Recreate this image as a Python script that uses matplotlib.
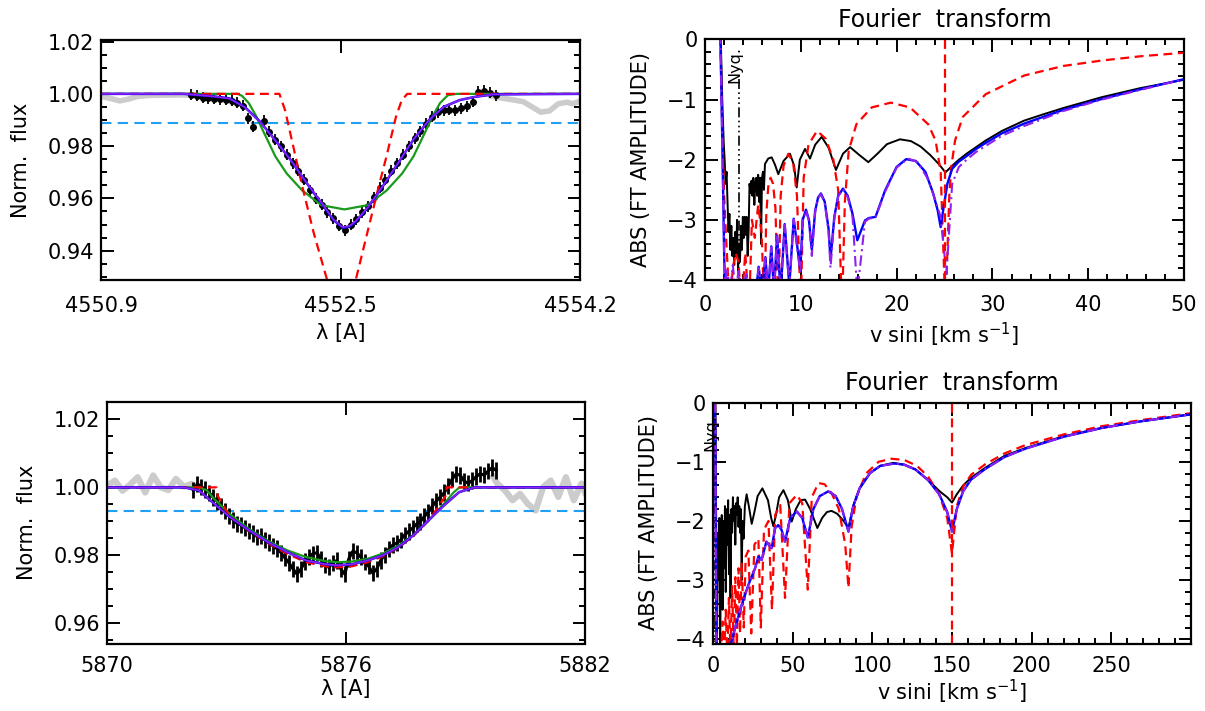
import numpy as np
import matplotlib
matplotlib.use('Agg')
import matplotlib.pyplot as plt
from matplotlib.ticker import MultipleLocator, FixedLocator, NullLocator

plt.rcParams['font.family'] = ['DejaVu Sans']
plt.rcParams['mathtext.fontset'] = 'dejavusans'

# ---------------- colours ----------------
C_RED = '#ff0000'
C_BLUE = '#0000ff'
C_PURPLE = '#9020f0'
C_GREEN = '#1a9a1a'
C_CYAN = '#1fa0f5'
C_GRAY = '#cccccc'

# ================= Panel 1 : Si III 4552 line =================
p1_xticks = [4550.85, 4552.5, 4554.15]
p1_xticklabels = ['4550.9', '4552.5', '4554.2']
p1_yticks = [0.94, 0.96, 0.98, 1.00, 1.02]
p1_yticklabels = ['0.94', '0.96', '0.98', '1.00', '1.02']

p1_gray_l_lam = [4550.85, 4550.92, 4550.98, 4551.04, 4551.10, 4551.18, 4551.28, 4551.38, 4551.48, 4551.55]
p1_gray_l_flux = [0.9990, 0.9982, 0.9973, 0.9980, 0.9990, 0.9994, 0.9995, 0.9996, 0.9995, 0.9990]
p1_gray_r_lam = [4553.52, 4553.60, 4553.68, 4553.76, 4553.82, 4553.88, 4553.94, 4554.00, 4554.06, 4554.10, 4554.15]
p1_gray_r_flux = [0.9992, 0.9985, 0.9978, 0.9970, 0.9950, 0.9930, 0.9935, 0.9962, 0.9968, 0.9962, 0.9972]

p1_data_lam = [4551.47, 4551.51, 4551.55, 4551.59, 4551.63, 4551.67, 4551.71, 4551.75, 4551.79, 4551.83,
               4551.86, 4551.894, 4551.973, 4552.01, 4552.05, 4552.09, 4552.13, 4552.17, 4552.21, 4552.25,
               4552.29, 4552.33, 4552.37, 4552.41, 4552.45, 4552.49, 4552.53, 4552.57, 4552.61, 4552.65,
               4552.69, 4552.73, 4552.77, 4552.81, 4552.85, 4552.89, 4552.93, 4552.97, 4553.01, 4553.05,
               4553.09, 4553.13, 4553.17, 4553.21, 4553.25, 4553.29, 4553.33, 4553.37, 4553.41, 4553.45,
               4553.49, 4553.53, 4553.57]
p1_data_flux = [0.9997, 0.9992, 0.9986, 0.9984, 0.9982, 0.9980, 0.9978, 0.9974, 0.9966, 0.9955,
                0.9906, 0.9874, 0.9898, 0.9855, 0.9825, 0.9800, 0.9768, 0.9735, 0.9705, 0.9672,
                0.9632, 0.9598, 0.9575, 0.9548, 0.9525, 0.9495, 0.9478, 0.9500, 0.9520, 0.9548,
                0.9570, 0.9605, 0.9640, 0.9672, 0.9705, 0.9735, 0.9768, 0.9800, 0.9830, 0.9857,
                0.9885, 0.9912, 0.9930, 0.9938, 0.9940, 0.9937, 0.9945, 0.9952, 0.9970, 1.0008,
                1.0012, 1.0005, 0.9995]
p1_data_err = 0.0021

p1_blue_lam = [4550.85, 4551.42, 4551.525, 4551.63, 4551.735, 4551.84, 4551.947, 4552.05, 4552.157, 4552.26,
               4552.37, 4552.45, 4552.515, 4552.56, 4552.605, 4552.684, 4552.79, 4552.896, 4553.0, 4553.11,
               4553.21, 4553.32, 4553.42, 4553.555, 4554.15]
p1_blue_flux = [1.0, 1.0, 0.9995, 0.9990, 0.9983, 0.9950, 0.9893, 0.9823, 0.9747, 0.9664,
                0.9581, 0.9518, 0.9488, 0.9492, 0.9511, 0.9562, 0.9645, 0.9734, 0.9823, 0.9900,
                0.9950, 0.9976, 0.9988, 0.9998, 1.0]
p1_purple_flux = [1.0, 1.0, 0.9995, 0.9990, 0.9982, 0.9949, 0.9892, 0.9822, 0.9747, 0.9665,
                  0.9583, 0.9520, 0.9490, 0.9494, 0.9513, 0.9563, 0.9646, 0.9735, 0.9824, 0.9900,
                  0.9950, 0.9976, 0.9988, 0.9998, 1.0]

p1_green_lam = [4550.85, 4551.79, 4551.82, 4551.868, 4551.92, 4551.974, 4552.052, 4552.13, 4552.237, 4552.369,
                4552.527, 4552.685, 4552.817, 4552.924, 4553.002, 4553.08, 4553.134, 4553.186, 4553.24, 4553.30, 4554.15]
p1_green_flux = [1.0, 1.0, 0.9993, 0.9965, 0.9914, 0.9850, 0.9760, 0.9695, 0.9630, 0.9574,
                 0.9558, 0.9574, 0.9630, 0.9695, 0.9760, 0.9850, 0.9914, 0.9965, 0.9995, 1.0, 1.0]

p1_red_lam = [4550.85, 4552.079, 4552.118, 4552.17, 4552.237, 4552.316, 4552.408, 4552.46, 4552.51, 4552.56,
              4552.605, 4552.684, 4552.763, 4552.816, 4552.882, 4552.922, 4552.96, 4554.15]
p1_red_flux = [1.0, 1.0, 0.9938, 0.9810, 0.9645, 0.9467, 0.9288, 0.9210, 0.9190, 0.9210,
               0.9288, 0.9467, 0.9645, 0.9759, 0.9912, 0.9976, 1.0, 1.0]
p1_cyan_level = 0.9889

# ================= Panel 3 : He I 5876 line =================
p3_xticks = [5870, 5876, 5882]
p3_xticklabels = ['5870', '5876', '5882']
p3_yticks = [0.96, 0.98, 1.00, 1.02]
p3_yticklabels = ['0.96', '0.98', '1.00', '1.02']

p3_gray_l_lam = [5870.0, 5870.2, 5870.39, 5870.58, 5870.77, 5870.96, 5871.16, 5871.35, 5871.54, 5871.73, 5871.93, 5872.12, 5872.3]
p3_gray_l_flux = [1.0005, 1.0020, 0.9990, 1.0008, 1.0030, 0.9985, 1.0035, 1.0000, 0.9992, 1.0025, 1.0002, 1.0010, 1.0000]
p3_gray_r_lam = [5879.7, 5879.8, 5879.99, 5880.18, 5880.37, 5880.56, 5880.76, 5880.95, 5881.14, 5881.33, 5881.52, 5881.72, 5881.91, 5882.0]
p3_gray_r_flux = [1.0030, 1.0011, 0.9991, 0.9962, 0.9981, 0.9952, 0.9932, 1.0001, 1.0020, 0.9972, 1.0030, 0.9962, 1.0011, 0.9985]

p3_data_lam_start, p3_data_lam_end = 5872.17, 5879.77
p3_data_flux = [0.9992, 1.0010, 1.0002, 0.9994, 0.9984, 0.9970, 0.9958, 0.9945, 0.9930, 0.9915,
                0.9905, 0.9893, 0.9890, 0.9880, 0.9872, 0.9864, 0.9855, 0.9858, 0.9846, 0.9838,
                0.9828, 0.9820, 0.9808, 0.9792, 0.9778, 0.9760, 0.9745, 0.9760, 0.9782, 0.9795,
                0.9805, 0.9808, 0.9790, 0.9772, 0.9765, 0.9778, 0.9785, 0.9760, 0.9745, 0.9790,
                0.9812, 0.9808, 0.9795, 0.9780, 0.9768, 0.9748, 0.9760, 0.9785, 0.9802, 0.9818,
                0.9830, 0.9836, 0.9845, 0.9860, 0.9870, 0.9880, 0.9892, 0.9900, 0.9915, 0.9928,
                0.9945, 0.9960, 0.9972, 0.9985, 1.0005, 1.0025, 1.0040, 1.0035, 1.0018, 1.0012,
                1.0020, 1.0032, 1.0040, 1.0036, 1.0048, 1.0058, 1.0050]
p3_data_err = 0.0024

p3_blue_lam = [5870.0, 5871.93, 5872.31, 5872.69, 5873.08, 5873.56, 5874.04, 5874.52, 5875.0, 5875.48,
               5875.77, 5876.15, 5876.54, 5876.92, 5877.31, 5877.69, 5878.07, 5878.46, 5878.84, 5879.23, 5882.0]
p3_blue_flux = [1.0, 1.0, 0.9991, 0.9952, 0.9913, 0.9874, 0.9839, 0.9810, 0.9785, 0.9774,
                0.9771, 0.9774, 0.9785, 0.9800, 0.9824, 0.9859, 0.9903, 0.9947, 0.9986, 1.0, 1.0]
p3_green_lam = [5870.0, 5872.3, 5872.5, 5872.7, 5873.08, 5873.56, 5874.04, 5874.52, 5875.0, 5875.48,
                5875.8, 5876.15, 5876.54, 5876.92, 5877.31, 5877.69, 5878.07, 5878.46, 5878.7, 5878.85, 5882.0]
p3_green_flux = [1.0, 1.0, 0.9992, 0.9965, 0.9922, 0.9878, 0.9843, 0.9815, 0.9795, 0.9783,
                 0.9780, 0.9782, 0.9790, 0.9805, 0.9828, 0.9860, 0.9902, 0.9952, 0.9985, 1.0, 1.0]
p3_red_lam = [5870.0, 5872.75, 5872.78, 5873.08, 5873.56, 5874.04, 5874.52, 5875.0, 5875.48, 5875.77,
              5876.15, 5876.54, 5876.92, 5877.31, 5877.69, 5878.07, 5878.3, 5878.5, 5878.53, 5882.0]
p3_red_flux = [1.0, 1.0, 0.9975, 0.9915, 0.9872, 0.9836, 0.9805, 0.9780, 0.9768, 0.9765,
               0.9768, 0.9780, 0.9797, 0.9822, 0.9857, 0.9902, 0.9940, 0.9975, 1.0, 1.0]
p3_cyan_level = 0.9932

# ================= Panel 2 : FT of 4552 line =================
ft1_black_v = [1.65, 1.8, 1.95, 2.05, 2.15, 2.25, 2.35, 2.45, 2.55, 2.65,
               2.75, 2.85, 2.95, 3.05, 3.15, 3.25, 3.35, 3.45, 3.55, 3.65,
               3.75, 3.85, 3.95, 4.05, 4.15, 4.25, 4.35, 4.45, 4.55, 4.65,
               4.75, 4.85, 4.95, 5.05, 5.15, 5.25, 5.35, 5.45, 5.55, 5.65,
               5.75, 5.85, 5.95, 6.05, 6.15, 6.26, 6.6, 6.96, 7.3, 7.65,
               8.2, 8.87, 9.3, 9.57, 9.9, 10.44, 10.96, 11.5, 12.18, 12.9,
               13.67, 14.4, 15.14, 16.1, 17.05, 18.0, 19.0, 20.35, 21.5, 22.5,
               23.5, 24.4, 25.1, 25.8, 26.5, 27.3, 28.3, 29.3, 31.0, 33.3,
               35.4, 37.4, 41.4, 45.4, 50.0]
ft1_black_a = [0.0, -1.0, -1.7, -2.0, -2.4, -2.2, -2.7, -3.2, -2.9, -3.5,
               -3.1, -3.6, -3.3, -3.75, -3.2, -3.6, -3.0, -3.85, -3.4, -3.7,
               -3.1, -3.5, -2.95, -3.3, -2.95, -3.25, -2.95, -3.6, -3.2, -2.4,
               -2.55, -2.35, -2.6, -2.3, -2.75, -2.4, -2.3, -2.6, -2.25, -2.7,
               -2.3, -3.4, -2.3, -2.2, -2.5, -2.07, -1.98, -1.96, -2.08, -2.24,
               -2.02, -1.9, -2.1, -2.46, -2.0, -1.82, -1.98, -1.75, -1.62, -1.8,
               -2.17, -1.9, -1.79, -1.92, -2.04, -1.9, -1.74, -1.66, -1.69, -1.78,
               -1.92, -2.07, -2.21, -2.1, -2.0, -1.9, -1.79, -1.68, -1.52, -1.35,
               -1.24, -1.14, -0.96, -0.81, -0.67]

ft1_blue_v = [1.6, 1.75, 1.9, 2.0, 2.1, 2.6, 3.1, 3.6, 4.1, 4.5,
              4.9, 5.25, 5.6, 5.95, 6.3, 6.6, 6.92, 7.2, 7.52, 7.9,
              8.32, 8.8, 9.26, 9.95, 10.2, 10.54, 10.85, 11.15, 11.5, 11.8,
              12.1, 12.5, 12.9, 13.1, 13.5, 13.9, 14.4, 14.9, 15.4, 15.9,
              16.7, 17.1, 17.8, 18.8, 20.0, 21.0, 22.0, 23.0, 23.8, 24.3,
              24.6, 24.9, 25.3, 25.8, 26.5, 27.3, 28.3, 29.3, 31.0, 33.3,
              37.4, 41.4, 45.4, 50.0]
ft1_blue_a = [0.1, -1.2, -2.6, -3.6, -4.2, -4.3, -4.15, -4.3, -4.1, -4.3,
              -4.05, -4.3, -3.78, -4.25, -3.62, -4.2, -3.44, -4.2, -3.26, -4.2,
              -3.07, -4.1, -2.98, -3.84, -3.0, -2.83, -3.0, -3.5, -2.85, -2.63,
              -2.56, -2.7, -3.15, -3.66, -2.95, -2.6, -2.48, -2.6, -2.9, -3.34,
              -3.01, -2.97, -2.95, -2.51, -2.12, -1.99, -2.02, -2.2, -2.55, -2.85,
              -3.12, -2.8, -2.4, -2.15, -2.03, -1.94, -1.82, -1.72, -1.56, -1.4,
              -1.17, -0.99, -0.83, -0.66]

ft1_purple_v = [1.6, 1.75, 1.9, 2.0, 2.1, 2.3, 2.6, 2.9, 3.2, 3.5,
                3.9, 4.3, 4.7, 5.0, 5.25, 5.6, 5.95, 6.3, 6.6, 6.92,
                7.2, 7.52, 7.9, 8.32, 8.8, 9.26, 9.95, 10.2, 10.54, 10.85,
                11.15, 11.5, 11.8, 12.1, 12.5, 12.9, 13.1, 13.5, 13.9, 14.4,
                14.9, 15.4, 15.9, 16.7, 17.1, 17.8, 18.8, 20.0, 21.2, 22.2,
                23.2, 24.0, 24.6, 25.2, 25.8, 26.5, 27.3, 28.3, 29.3, 31.0,
                33.3, 37.4, 41.4, 45.4, 50.0]
ft1_purple_a = [0.1, -1.2, -2.6, -3.6, -4.2, -3.8, -4.2, -3.75, -4.2, -3.85,
                -4.2, -3.9, -4.2, -3.95, -4.3, -3.8, -4.25, -3.63, -4.2, -3.45,
                -4.2, -3.27, -4.2, -3.08, -4.1, -2.99, -3.9, -3.02, -2.84, -3.02,
                -3.6, -2.86, -2.64, -2.57, -2.72, -3.2, -3.8, -2.97, -2.61, -2.49,
                -2.62, -2.95, -4.2, -3.03, -2.98, -2.96, -2.53, -2.13, -1.98, -2.04,
                -2.3, -2.65, -2.95, -3.9, -2.4, -2.12, -2.0, -1.87, -1.77, -1.6,
                -1.44, -1.19, -1.0, -0.84, -0.66]

ft1_red_v = [1.6, 1.8, 2.0, 2.2, 2.4, 2.6, 2.9, 3.2, 3.5, 3.8,
             4.2, 4.6, 4.9, 5.2, 5.55, 5.9, 6.2, 6.4, 6.6, 6.85,
             7.1, 7.35, 7.65, 7.9, 8.2, 8.7, 9.2, 9.6, 10.0, 10.3,
             10.8, 11.7, 12.6, 13.4, 13.9, 14.3, 14.6, 15.0, 15.8, 17.4,
             19.4, 21.4, 23.3, 24.07, 24.6, 25.1, 25.5, 25.7, 26.1, 26.9,
             29.3, 33.3, 37.4, 41.4, 45.4, 50.0]
ft1_red_a = [0.05, -1.5, -2.6, -3.3, -3.9, -4.5, -3.8, -3.55, -3.7, -4.5,
             -3.55, -4.5, -3.0, -3.3, -2.75, -3.2, -4.5, -2.9, -2.45, -2.3,
             -2.4, -2.8, -4.5, -2.6, -2.1, -1.9, -2.05, -2.6, -4.5, -2.3,
             -1.75, -1.52, -1.65, -2.0, -2.5, -4.5, -2.7, -1.85, -1.41, -1.13,
             -1.05, -1.13, -1.41, -1.68, -2.2, -4.5, -2.6, -2.13, -1.68, -1.29,
             -0.91, -0.6, -0.44, -0.35, -0.28, -0.22]
ft1_vsini = 25.1
ft1_nyq = 3.5

# ================= Panel 4 : FT of 5876 line =================
ft2_black_v = [1.5, 2.0, 2.5, 3.0, 3.5, 4.0, 4.5, 5.0, 5.5, 6.0,
               6.5, 7.0, 7.5, 8.0, 8.5, 9.0, 9.5, 10.0, 10.5, 11.0,
               11.5, 12.0, 12.5, 13.0, 13.5, 14.0, 14.5, 15.0, 15.5, 16.0,
               16.5, 17.0, 17.5, 18.0, 18.5, 19.2, 20.0, 21.1, 22.5, 24.3,
               26.0, 28.0, 31.0, 34.5, 36.5, 37.9, 39.5, 41.5, 44.2, 47.0,
               49.4, 52.0, 55.0, 57.8, 61.0, 63.5, 65.5, 68.5, 71.5, 74.4,
               78.0, 82.0, 85.0, 88.0, 92.0, 98.6, 105.0, 113.0, 120.0, 127.0,
               135.0, 142.3, 147.0, 150.0, 153.0, 157.0, 162.0, 171.0, 183.0, 196.0,
               220.0, 244.0, 268.0, 300.0]
ft2_black_a = [0.0, -2.0, -4.2, -2.2, -3.0, -1.95, -4.2, -2.5, -1.9, -3.5,
               -2.0, -2.8, -1.75, -3.2, -1.8, -2.4, -1.65, -2.9, -1.9, -3.3,
               -1.8, -2.2, -1.6, -2.0, -1.75, -2.4, -1.7, -1.9, -1.6, -2.1,
               -1.75, -2.2, -1.8, -3.0, -2.0, -2.3, -1.75, -1.55, -1.75, -2.05,
               -1.85, -1.58, -1.45, -1.65, -1.95, -2.09, -1.9, -1.6, -1.48, -1.65,
               -2.01, -1.8, -1.65, -1.64, -1.8, -1.98, -2.12, -1.95, -1.85, -1.83,
               -1.88, -2.0, -2.12, -1.75, -1.45, -1.19, -1.07, -1.02, -1.05, -1.13,
               -1.31, -1.5, -1.6, -1.69, -1.55, -1.4, -1.27, -1.1, -0.9, -0.77,
               -0.57, -0.43, -0.32, -0.2]

ft2_blue_v = [1.2, 1.5, 1.8, 2.1, 10.0, 11.3, 13.8, 18.0, 22.2, 26.4,
              28.5, 30.5, 33.5, 36.8, 39.0, 41.0, 43.0, 45.2, 48.5, 52.6,
              56.0, 59.5, 63.0, 67.0, 72.4, 77.0, 81.0, 85.0, 88.0, 92.0,
              98.6, 105.0, 114.0, 120.0, 127.0, 135.0, 142.0, 147.0, 150.0, 153.0,
              157.0, 162.0, 171.0, 183.0, 196.0, 220.0, 244.0, 268.0, 300.0]
ft2_blue_a = [0.0, -0.5, -2.5, -4.3, -4.3, -4.07, -3.81, -3.42, -3.08, -2.8,
              -2.6, -2.66, -2.35, -2.46, -2.12, -2.07, -2.15, -2.35, -1.95, -1.84,
              -1.95, -2.28, -1.8, -1.58, -1.5, -1.58, -1.8, -2.18, -1.75, -1.45,
              -1.19, -1.07, -1.03, -1.05, -1.13, -1.31, -1.55, -1.85, -2.18, -1.8,
              -1.5, -1.3, -1.12, -0.92, -0.78, -0.58, -0.43, -0.32, -0.2]

ft2_red_v = [1.3, 1.8, 2.5, 5.0, 6.0, 7.0, 8.0, 9.0, 10.0, 11.0,
             12.0, 13.0, 14.0, 15.0, 16.0, 17.0, 18.0, 19.3, 20.5, 22.2,
             24.0, 26.0, 28.5, 30.0, 32.0, 34.8, 37.0, 39.0, 42.2, 45.2,
             48.0, 52.6, 56.0, 59.5, 62.0, 66.2, 70.0, 74.4, 79.0, 83.0,
             85.0, 87.0, 90.0, 96.0, 104.0, 112.0, 120.0, 128.0, 135.0, 142.0,
             147.0, 150.0, 153.0, 157.0, 162.0, 171.0, 183.0, 196.0, 220.0, 244.0,
             268.0, 300.0]
ft2_red_a = [0.0, -2.5, -4.3, -4.3, -3.7, -4.3, -3.5, -4.3, -3.3, -4.3,
             -3.1, -4.2, -2.95, -4.1, -2.8, -3.9, -2.7, -3.8, -2.6, -2.5,
             -3.9, -2.4, -2.3, -3.8, -2.15, -2.0, -3.5, -1.9, -1.73, -3.3,
             -1.7, -1.56, -1.7, -3.16, -1.6, -1.36, -1.38, -1.53, -1.8, -2.4,
             -3.13, -2.1, -1.6, -1.2, -1.0, -0.95, -0.97, -1.07, -1.25, -1.55,
             -1.95, -2.55, -1.75, -1.42, -1.22, -1.04, -0.86, -0.72, -0.54, -0.4,
             -0.3, -0.18]
ft2_vsini = 150.0
ft2_nyq = 1.3

# ---------------- figure ----------------
fig = plt.figure(figsize=(12.05, 7.11), dpi=100)
W, H = 1205.0, 711.0


def axes_px(x0, y0, x1, y1):
    return fig.add_axes([x0 / W, 1 - y1 / H, (x1 - x0) / W, (y1 - y0) / H])


ax1 = axes_px(101, 39.5, 580, 280.5)
ax2 = axes_px(705, 39.5, 1184, 280.0)
ax3 = axes_px(107, 402, 585, 643.5)
ax4 = axes_px(713, 402.5, 1191, 643.5)

TICK_FS = 15
LABEL_FS = 15


def style(ax, xpad=11):
    for s in ax.spines.values():
        s.set_linewidth(1.6)
        s.set_zorder(20)
    ax.tick_params(which='both', direction='in', top=True, right=True, width=1.4,
                   labelsize=TICK_FS, zorder=21)
    ax.tick_params(which='major', length=9)
    ax.tick_params(which='minor', length=4.5)
    ax.tick_params(axis='x', pad=xpad)
    ax.tick_params(axis='y', pad=5)


dash_red = (4, 2.5)

# ---- Panel 1
ax = ax1
ax.plot(p1_gray_l_lam, p1_gray_l_flux, color=C_GRAY, lw=4, zorder=1, solid_capstyle='butt')
ax.plot(p1_gray_r_lam, p1_gray_r_flux, color=C_GRAY, lw=4, zorder=1, solid_capstyle='butt')
ax.axhline(p1_cyan_level, color=C_CYAN, lw=1.5, dashes=(5, 3), zorder=2)
ax.errorbar(p1_data_lam, p1_data_flux, yerr=p1_data_err, fmt='o', color='black', ms=4,
            elinewidth=1.3, capsize=0, zorder=3)
ax.plot(p1_green_lam, p1_green_flux, color=C_GREEN, lw=1.6, zorder=4)
ax.plot(p1_red_lam, p1_red_flux, color=C_RED, lw=1.6, dashes=dash_red, zorder=5)
ax.plot(p1_blue_lam, p1_blue_flux, color=C_BLUE, lw=1.8, zorder=6)
ax.plot(p1_blue_lam, p1_purple_flux, color=C_PURPLE, lw=1.2, zorder=7)
ax.set_xlim(4550.85, 4554.15)
ax.set_ylim(0.9286, 1.0208)
style(ax)
ax.xaxis.set_major_locator(FixedLocator(p1_xticks))
ax.set_xticklabels(p1_xticklabels)
ax.xaxis.set_minor_locator(NullLocator())
ax.yaxis.set_major_locator(FixedLocator(p1_yticks))
ax.set_yticklabels(p1_yticklabels)
ax.yaxis.set_minor_locator(MultipleLocator(0.005))
ax.set_xlabel('λ [A]', fontsize=LABEL_FS, labelpad=5)
ax.set_ylabel('Norm.  flux', fontsize=LABEL_FS, labelpad=12)

# ---- Panel 3
ax = ax3
ax.plot(p3_gray_l_lam, p3_gray_l_flux, color=C_GRAY, lw=4.5, zorder=1)
ax.plot(p3_gray_r_lam, p3_gray_r_flux, color=C_GRAY, lw=4.5, zorder=1)
ax.axhline(p3_cyan_level, color=C_CYAN, lw=1.5, dashes=(5, 3), zorder=2)
p3_data_lam = np.linspace(p3_data_lam_start, p3_data_lam_end, len(p3_data_flux))
ax.errorbar(p3_data_lam, p3_data_flux, yerr=p3_data_err, fmt='-', color='black', lw=2.2,
            elinewidth=2.0, capsize=0, zorder=3)
ax.plot(p3_green_lam, p3_green_flux, color=C_GREEN, lw=1.6, zorder=4)
ax.plot(p3_red_lam, p3_red_flux, color=C_RED, lw=1.6, dashes=dash_red, zorder=5)
ax.plot(p3_blue_lam, p3_blue_flux, color=C_BLUE, lw=1.8, zorder=6)
ax.plot(p3_blue_lam, p3_blue_flux, color=C_PURPLE, lw=1.2, zorder=7)
ax.set_xlim(5870, 5882)
ax.set_ylim(0.9541, 1.0251)
style(ax, xpad=9)
ax.xaxis.set_major_locator(FixedLocator(p3_xticks))
ax.set_xticklabels(p3_xticklabels)
ax.xaxis.set_minor_locator(NullLocator())
ax.yaxis.set_major_locator(FixedLocator(p3_yticks))
ax.set_yticklabels(p3_yticklabels)
ax.yaxis.set_minor_locator(MultipleLocator(0.005))
ax.set_xlabel('λ [A]', fontsize=LABEL_FS, labelpad=2)
ax.set_ylabel('Norm.  flux', fontsize=LABEL_FS, labelpad=12)


def ft_panel(ax, bv, ba, rv, ra, blv, bla, pv, pa, vsini, nyq, xlim, ylim, xmin, xticks,
             nyq_top, xpad, xlabelpad):
    ax.plot(bv, ba, color='black', lw=1.4, zorder=2)
    ax.plot(rv, ra, color=C_RED, lw=1.6, dashes=dash_red, zorder=3)
    ax.plot(blv, bla, color=C_BLUE, lw=1.7, zorder=4)
    ax.plot(pv, pa, color=C_PURPLE, lw=1.5, dashes=(5, 2, 1, 2), zorder=5)
    ax.axvline(vsini, color=C_RED, lw=1.6, dashes=dash_red, zorder=6)
    ax.plot([nyq, nyq], [nyq_top - 0.55, ylim[0]], color='black', lw=1.2,
            dashes=(6, 2, 1, 2, 1, 2, 1, 2), zorder=2)
    ax.text(nyq - (xlim[1] - xlim[0]) * 0.008, nyq_top, 'Nyq.', rotation=90, ha='center', va='top',
            fontsize=11.5, zorder=8)
    ax.set_xlim(*xlim)
    ax.set_ylim(*ylim)
    style(ax, xpad=xpad)
    ax.xaxis.set_major_locator(FixedLocator(xticks))
    ax.xaxis.set_minor_locator(MultipleLocator(xmin))
    ax.yaxis.set_major_locator(FixedLocator([-4, -3, -2, -1, 0]))
    ax.yaxis.set_minor_locator(MultipleLocator(0.2))
    ax.set_xlabel('v sini [km s$^{-1}$]', fontsize=LABEL_FS, labelpad=xlabelpad)
    ax.set_ylabel('ABS (FT AMPLITUDE)', fontsize=LABEL_FS, labelpad=12)
    ax.set_title('Fourier  transform', fontsize=17, pad=9)


ft_panel(ax2, ft1_black_v, ft1_black_a, ft1_red_v, ft1_red_a, ft1_blue_v, ft1_blue_a,
         ft1_purple_v, ft1_purple_a, ft1_vsini, ft1_nyq, (0, 50), (-4.0, 0.0), 2,
         [0, 10, 20, 30, 40, 50], -0.1, 11, 4)
ft_panel(ax4, ft2_black_v, ft2_black_a, ft2_red_v, ft2_red_a, ft2_blue_v, ft2_blue_a,
         ft2_blue_v, ft2_blue_a, ft2_vsini, ft2_nyq, (0, 300), (-4.07, 0.0), 10,
         [0, 50, 100, 150, 200, 250], -0.2, 9, 1)

fig.savefig('out.png', dpi=100, facecolor='white')
